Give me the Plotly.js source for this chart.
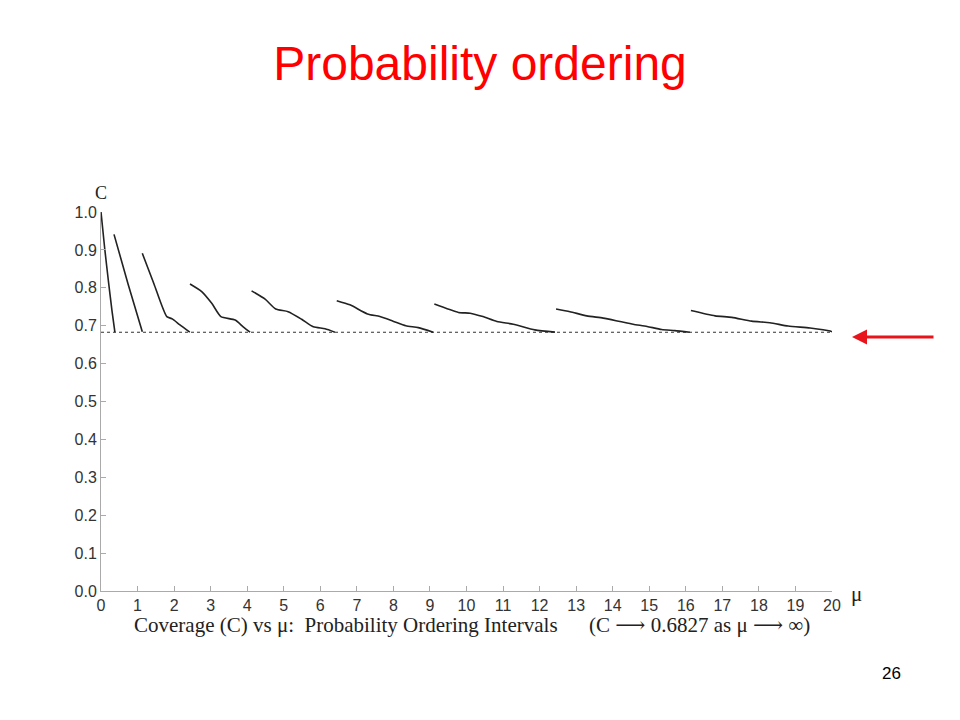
<!DOCTYPE html>
<html>
<head>
<meta charset="utf-8">
<script src="https://cdn.plot.ly/plotly-3.0.1.min.js"></script>
<style>html,body{margin:0;padding:0;background:#fff;}#chart{width:960px;height:720px;}</style>
</head>
<body>
<div id="chart"></div>
<script>
// Coverage curve, segments separated by nulls
const muValues = [
  0.0, 0.1, 0.2, 0.3, 0.38, null,
  0.356, 0.74, 1.13, null,
  1.13, 1.45, 1.80, 1.95, 2.15, 2.43, null,
  2.435, 2.755, 3.03, 3.28, 3.67, 3.89, 4.08, null,
  4.12, 4.49, 4.78, 5.12, 5.49, 5.81, 6.13, 6.40, null,
  6.45, 6.81, 7.29, 7.63, 7.99, 8.34, 8.68, 9.09, null,
  9.12, 9.78, 10.10, 10.45, 10.83, 11.28, 11.87, 12.42, null,
  12.45, 12.83, 13.29, 13.74, 14.20, 14.56, 14.94, 15.34, 15.70, 16.11, null,
  16.14, 16.80, 17.26, 17.80, 18.30, 18.80, 19.40, 19.95, 20.0
];
const coverage = [
  1.000, 0.905, 0.820, 0.740, 0.683, null,
  0.941, 0.810, 0.684, null,
  0.891, 0.810, 0.724, 0.718, 0.703, 0.683, null,
  0.810, 0.790, 0.759, 0.724, 0.715, 0.697, 0.683, null,
  0.792, 0.770, 0.744, 0.737, 0.717, 0.697, 0.692, 0.683, null,
  0.766, 0.755, 0.731, 0.724, 0.712, 0.700, 0.695, 0.683, null,
  0.757, 0.735, 0.733, 0.724, 0.711, 0.704, 0.689, 0.683, null,
  0.744, 0.737, 0.726, 0.720, 0.711, 0.704, 0.698, 0.690, 0.687, 0.6827, null,
  0.740, 0.726, 0.722, 0.712, 0.708, 0.699, 0.694, 0.686, 0.684
];
const asymptoteX = [0, 20];
const asymptoteC = [0.6827, 0.6827];
const xTicks = [0,1,2,3,4,5,6,7,8,9,10,11,12,13,14,15,16,17,18,19,20];
const yTicks = [0.0,0.1,0.2,0.3,0.4,0.5,0.6,0.7,0.8,0.9,1.0];
const yTickText = ['0.0','0.1','0.2','0.3','0.4','0.5','0.6','0.7','0.8','0.9','1.0'];

const traces = [
  {x: asymptoteX, y: asymptoteC, mode: 'lines', line: {color: '#333', width: 1.2, dash: 'dot'}, hoverinfo: 'skip'},
  {x: muValues, y: coverage, mode: 'lines', connectgaps: false, line: {color: '#222', width: 1.6, shape: 'spline', smoothing: 0.6}}
];

const tickFont = {family: 'Liberation Sans, Arial, sans-serif', size: 16, color: '#333'};
const serif = 'Liberation Serif, Times New Roman, serif';
const arrow = '<span style="font-family:DejaVu Serif">⟶</span>';
const layout = {
  width: 960, height: 720,
  margin: {l: 101, r: 128, t: 212, b: 129},
  paper_bgcolor: '#fff', plot_bgcolor: '#fff',
  showlegend: false,
  title: {text: 'Probability ordering', font: {family: 'Liberation Sans, Arial, sans-serif', size: 48, color: '#ff0000'},
          x: 0.5, xref: 'container', y: 1 - 63/720, yref: 'container', yanchor: 'middle', xanchor: 'center'},
  xaxis: {range: [0, 20], tickvals: xTicks, ticktext: xTicks.map(String), ticks: 'inside', ticklen: 5, tickcolor: '#aaa',
          showgrid: false, zeroline: false, showline: true, linecolor: '#aaa', linewidth: 1, tickfont: tickFont, fixedrange: true},
  yaxis: {range: [0, 1], tickvals: yTicks, ticktext: yTickText, ticks: 'inside', ticklen: 5, tickcolor: '#aaa',
          showgrid: false, zeroline: false, showline: true, linecolor: '#aaa', linewidth: 1, tickfont: tickFont, fixedrange: true},
  annotations: [
    {text: 'C', xref: 'paper', yref: 'paper', x: 0.0, y: (591-193)/379, xanchor: 'center', yanchor: 'middle', showarrow: false,
     font: {family: serif, size: 18, color: '#222'}},
    {text: 'μ', xref: 'paper', yref: 'paper', x: (856-101)/731, y: (591-594)/379, xanchor: 'center', yanchor: 'middle', showarrow: false,
     font: {family: serif, size: 21, color: '#222'}},
    {text: 'Coverage (C) vs μ:&nbsp;&nbsp;Probability Ordering Intervals&nbsp;&nbsp;&nbsp;&nbsp;&nbsp;&nbsp;(C ' + arrow + ' 0.6827 as μ ' + arrow + ' ∞)',
     xref: 'paper', yref: 'paper', x: (472-101)/731, y: (591-625)/379, xanchor: 'center', yanchor: 'middle', showarrow: false,
     font: {family: serif, size: 21, color: '#222'}},
    {text: '26', xref: 'paper', yref: 'paper', x: (891-101)/731, y: (591-673)/379, xanchor: 'center', yanchor: 'middle', showarrow: false,
     font: {family: 'Liberation Sans, Arial, sans-serif', size: 17, color: '#000'}},
    {text: '', xref: 'paper', yref: 'paper', x: (852-101)/731, y: (591-337)/379, axref: 'pixel', ayref: 'pixel', ax: 83, ay: 0,
     showarrow: true, arrowhead: 2, arrowsize: 1, arrowwidth: 3, arrowcolor: '#e8141b'}
  ]
};
Plotly.newPlot('chart', traces, layout, {displayModeBar: false, staticPlot: true});
</script>
</body>
</html>
